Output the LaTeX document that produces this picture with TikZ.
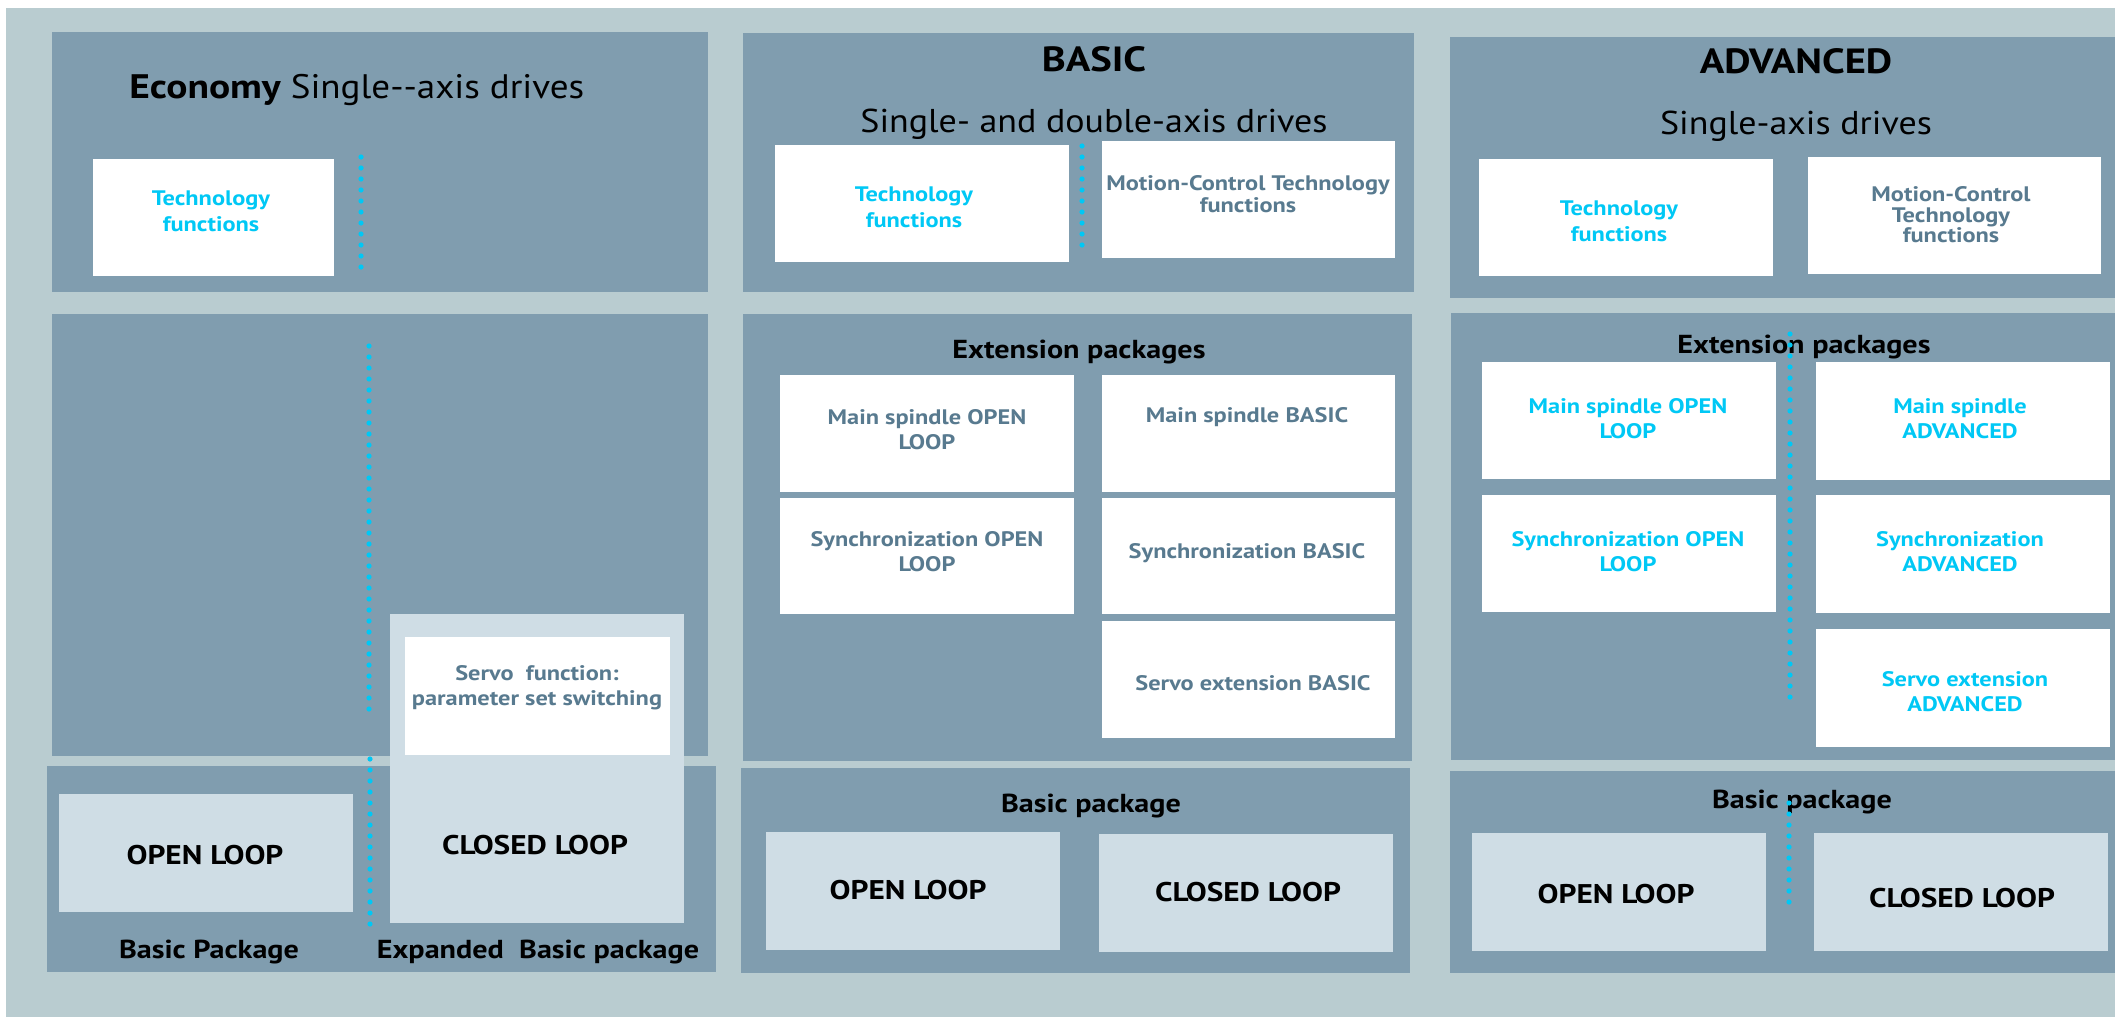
\documentclass[tikz,border=0pt]{standalone}
\usepackage{fontspec}
\setmainfont{PT Sans}[FakeStretch=1.09, BoldFeatures={FakeStretch=1.16}]
\definecolor{bgc}{RGB}{185,204,208}
\definecolor{panelc}{RGB}{128,157,175}
\definecolor{lightc}{RGB}{207,221,229}
\definecolor{cyanc}{RGB}{0,200,245}
\definecolor{grayc}{RGB}{88,122,143}
\newcommand\bx[7]{%
  \pgfmathsetmacro\bxcx{(#3+#5)/2}%
  \pgfmathsetmacro\bxcy{(#4+#6)/2}%
  \pgfmathsetmacro\bxw{(#5-#3)*0.5}%
  \pgfmathsetmacro\bxh{(#6-#4)*0.5}%
  \node[#2, minimum width=\bxw pt, minimum height=\bxh pt] (#1) at (\bxcx,\bxcy) {#7};}
\begin{document}
\begin{tikzpicture}[x=0.5pt,y=-0.5pt,
  panel/.style={fill=panelc, draw=none, inner sep=0pt},
  wbox/.style={fill=white, draw=none, inner sep=0pt},
  lbox/.style={fill=lightc, draw=none, inner sep=0pt},
  title/.style={inner sep=0pt, anchor=base, font=\fontsize{16.5}{19}\selectfont},
  head/.style={inner sep=0pt, anchor=base, font=\fontsize{13}{15}\selectfont\bfseries},
  loop/.style={inner sep=0pt, font=\fontsize{13.5}{15}\selectfont\bfseries},
  ctxt/.style={inner sep=0pt, align=center, text=cyanc, font=\fontsize{10.5}{13}\selectfont\bfseries},
  gtxt/.style={inner sep=0pt, align=center, text=grayc, font=\fontsize{10.5}{12.5}\selectfont\bfseries},
  dots/.style={draw=cyanc, line width=2.6pt, line cap=round, dash pattern=on 0pt off 5.5pt}]
\useasboundingbox (0,0) rectangle (2115,1017);
\fill[white] (0,0) rectangle (2115,1017);
\fill[bgc] (6,8) rectangle (2115,1017);

% ---------- column 1 : Economy ----------
\bx{p1t}{panel}{52}{32}{708}{292}{}
\bx{p1m}{panel}{52}{314}{708}{756}{}
\bx{p1b}{panel}{47}{766}{716}{972}{}
\node[title, anchor=base west] (ecot) at (129,98) {\fontsize{17}{19}\selectfont\bfseries Economy \mdseries Single-{}-axis drives};
\bx{ecotech}{wbox}{93}{159}{334}{276}{}
\node[ctxt] (ecotecht) at (211,211) {Technology\\functions};
\coordinate (d1a) at (361,157); \coordinate (d1b) at (361,268);
\draw[dots] (d1a) -- (d1b);
\coordinate (d2a) at (369,346); \coordinate (d2b) at (369,714);
\draw[dots] (d2a) -- (d2b);
\coordinate (d3a) at (370,759); \coordinate (d3b) at (370,927);
\draw[dots] (d3a) -- (d3b);
\bx{ecoopen}{lbox}{59}{794}{353}{912}{}
\node[loop] (ecoopent) at (205,855) {OPEN LOOP};
\bx{ecoclosed}{lbox}{390}{614}{684}{923}{}
\bx{servo}{wbox}{405}{637}{670}{755}{}
\node[gtxt] (servot) at (537,688) {Servo\ \ function:\\parameter set switching};
\node[loop] (ecoclosedt) at (535,845) {CLOSED LOOP};
\node[head] (ecobp) at (209,958) {Basic Package};
\node[head] (ecoebp) at (538,958) {Expanded\ \ Basic package};

% ---------- column 2 : BASIC ----------
\bx{p2t}{panel}{743}{33}{1414}{292}{}
\bx{p2m}{panel}{743}{314}{1412}{761}{}
\bx{p2b}{panel}{741}{768}{1410}{973}{}
\node[title, font=\fontsize{17.5}{19}\selectfont\bfseries] (bast) at (1094,71) {BASIC};
\node[title] (bassub) at (1094,132) {Single- and double-axis drives};
\bx{bastech}{wbox}{775}{145}{1069}{262}{}
\node[ctxt] (bastecht) at (914,207) {Technology\\functions};
\bx{basmc}{wbox}{1102}{141}{1395}{258}{}
\node[gtxt, font=\fontsize{10.5}{11}\selectfont\bfseries] (basmct) at (1248,194) {Motion-Control Technology\\functions};
\coordinate (d4a) at (1082,146); \coordinate (d4b) at (1082,247);
\draw[dots] (d4a) -- (d4b);
\node[head] (basext) at (1079,358) {Extension packages};
\bx{bmsol}{wbox}{780}{375}{1074}{492}{}
\bx{bmsb}{wbox}{1102}{375}{1395}{492}{}
\bx{bsyol}{wbox}{780}{498}{1074}{614}{}
\bx{bsyb}{wbox}{1102}{498}{1395}{614}{}
\bx{bsvb}{wbox}{1102}{621}{1395}{738}{}
\node[gtxt] (bmsolt) at (927,430) {Main spindle OPEN\\LOOP};
\node[gtxt] (bmsbt) at (1247,417) {Main spindle BASIC};
\node[gtxt] (bsyolt) at (927,552) {Synchronization OPEN\\LOOP};
\node[gtxt] (bsybt) at (1247,553) {Synchronization BASIC};
\node[gtxt] (bsvbt) at (1253,683) {Servo extension BASIC};
\node[head] (basbp) at (1091,812) {Basic package};
\bx{basopen}{lbox}{766}{832}{1060}{950}{}
\bx{basclosed}{lbox}{1099}{834}{1393}{952}{}
\node[loop] (basopent) at (908,890) {OPEN LOOP};
\node[loop] (basclosedt) at (1248,892) {CLOSED LOOP};

% ---------- column 3 : ADVANCED ----------
\bx{p3t}{panel}{1450}{37}{2115}{298}{}
\bx{p3m}{panel}{1451}{313}{2115}{760}{}
\bx{p3b}{panel}{1450}{771}{2115}{973}{}
\node[title, font=\fontsize{17.5}{19}\selectfont\bfseries] (advt) at (1796,73) {ADVANCED};
\node[title] (advsub) at (1796,134) {Single-axis drives};
\bx{advtech}{wbox}{1479}{159}{1773}{276}{}
\node[ctxt] (advtecht) at (1619,221) {Technology\\functions};
\bx{advmc}{wbox}{1808}{157}{2101}{274}{}
\node[gtxt, font=\fontsize{10.5}{10.3}\selectfont\bfseries] (advmct) at (1951,215) {Motion-Control\\Technology\\functions};
\node[head] (advext) at (1804,353) {Extension packages};
\bx{amsol}{wbox}{1482}{362}{1776}{479}{}
\bx{amsa}{wbox}{1816}{362}{2110}{480}{}
\bx{asyol}{wbox}{1482}{495}{1776}{612}{}
\bx{asya}{wbox}{1816}{495}{2110}{613}{}
\bx{asva}{wbox}{1816}{629}{2110}{747}{}
\coordinate (d5a) at (1790,334); \coordinate (d5b) at (1790,703);
\draw[dots] (d5a) -- (d5b);
\node[ctxt, font=\fontsize{10.5}{12.5}\selectfont\bfseries] (amsolt) at (1628,419) {Main spindle OPEN\\LOOP};
\node[ctxt, font=\fontsize{10.5}{12.5}\selectfont\bfseries] (amsat) at (1960,419) {Main spindle\\ADVANCED};
\node[ctxt, font=\fontsize{10.5}{12.5}\selectfont\bfseries] (asyolt) at (1628,552) {Synchronization OPEN\\LOOP};
\node[ctxt, font=\fontsize{10.5}{12.5}\selectfont\bfseries] (asyat) at (1960,552) {Synchronization\\ADVANCED};
\node[ctxt, font=\fontsize{10.5}{12.5}\selectfont\bfseries] (asvat) at (1965,692) {Servo extension\\ADVANCED};
\node[head] (advbp) at (1802,808) {Basic package};
\bx{advopen}{lbox}{1472}{833}{1766}{951}{}
\bx{advclosed}{lbox}{1814}{833}{2108}{951}{}
\coordinate (d6a) at (1789,803); \coordinate (d6b) at (1789,905);
\draw[dots] (d6a) -- (d6b);
\node[loop] (advopent) at (1616,894) {OPEN LOOP};
\node[loop] (advclosedt) at (1962,898) {CLOSED LOOP};
\end{tikzpicture}
\end{document}
